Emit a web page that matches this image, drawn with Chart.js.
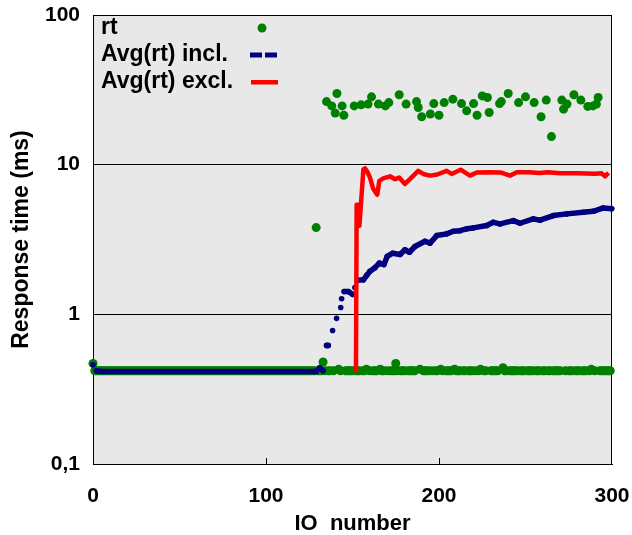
<!DOCTYPE html>
<html>
<head>
<meta charset="utf-8">
<script src="https://cdn.jsdelivr.net/npm/chart.js"></script>
<style>
  html, body { margin: 0; padding: 0; background: #fff; }
  #wrap { width: 632px; height: 535px; position: relative; }
</style>
</head>
<body>
<div id="wrap"><canvas id="chart"></canvas></div>
<script>
// response time of each IO (ms), IO number = index
const rt = [
  0.47, 0.42, 0.42, 0.42, 0.42, 0.42, 0.42, 0.42, 0.42, 0.42, 0.42, 0.42, 0.42, 0.42, 0.42, 0.42, 0.42, 0.42, 0.42, 0.42,
  0.42, 0.42, 0.42, 0.42, 0.42, 0.42, 0.42, 0.42, 0.42, 0.42, 0.42, 0.42, 0.42, 0.42, 0.42, 0.42, 0.42, 0.42, 0.42, 0.42,
  0.42, 0.42, 0.42, 0.42, 0.42, 0.42, 0.42, 0.42, 0.42, 0.42, 0.42, 0.42, 0.42, 0.42, 0.42, 0.42, 0.42, 0.42, 0.42, 0.42,
  0.42, 0.42, 0.42, 0.42, 0.42, 0.42, 0.42, 0.42, 0.42, 0.42, 0.42, 0.42, 0.42, 0.42, 0.42, 0.42, 0.42, 0.42, 0.42, 0.42,
  0.42, 0.42, 0.42, 0.42, 0.42, 0.42, 0.42, 0.42, 0.42, 0.42, 0.42, 0.42, 0.42, 0.42, 0.42, 0.42, 0.42, 0.42, 0.42, 0.42,
  0.42, 0.42, 0.42, 0.42, 0.42, 0.42, 0.42, 0.42, 0.42, 0.42, 0.42, 0.42, 0.42, 0.42, 0.42, 0.42, 0.42, 0.42, 0.42, 0.42,
  0.42, 0.42, 0.42, 0.42, 0.42, 0.42, 0.42, 0.42, 0.42, 3.8, 0.42, 0.42, 0.42, 0.48, 0.42, 26.4, 0.42, 0.42, 24.7, 0.42,
  22.1, 29.9, 0.43, 0.42, 24.7, 21.4, 0.42, 0.42, 0.42, 0.42, 0.42, 24.7, 0.42, 0.42, 0.42, 25.1, 0.42, 0.42, 0.43, 25.4,
  0.42, 28.4, 0.42, 0.42, 0.42, 25.4, 0.43, 0.42, 0.42, 24.7, 0.42, 26.0, 0.42, 0.42, 0.42, 0.47, 0.42, 29.3, 0.42, 0.42,
  0.42, 25.4, 0.42, 0.42, 0.42, 0.42, 0.42, 26.4, 24.1, 0.43, 20.9, 0.42, 0.42, 0.42, 0.42, 21.8, 0.42, 25.6, 0.42, 0.42,
  21.4, 0.43, 0.42, 26.0, 0.42, 0.42, 0.42, 0.42, 27.4, 0.43, 0.42, 0.42, 0.42, 25.6, 0.42, 0.42, 22.9, 0.42, 0.42, 0.42,
  25.6, 0.42, 21.4, 0.42, 0.43, 28.8, 0.42, 0.42, 28.1, 22.3, 0.42, 0.42, 0.42, 0.42, 0.42, 25.6, 26.4, 0.44, 0.42, 0.42,
  29.9, 0.42, 0.42, 0.42, 0.42, 0.42, 26.0, 0.42, 0.42, 0.42, 28.4, 0.42, 0.42, 0.42, 0.42, 26.0, 0.42, 0.42, 0.42, 20.9,
  0.42, 0.42, 27.0, 0.42, 0.42, 15.4, 0.42, 0.42, 0.42, 0.42, 0.42, 27.0, 23.5, 0.42, 25.4, 0.42, 0.42, 0.42, 29.3, 0.42,
  0.42, 0.42, 27.0, 0.42, 0.42, 0.42, 24.5, 0.42, 0.43, 24.7, 0.42, 25.4, 28.1, 0.42, 0.42, 0.42, 0.42, 0.42, 0.42, 0.42
];

// running average including all IOs
const inclIO = [0, 2, 5, 128, 129, 131, 133, 135, 136, 138.5, 140.8, 143.2, 143.7, 145.2, 147.6, 150.1, 151.4, 152.8,
  156.3, 158.2, 160.1, 163, 165.5, 168.2, 170.1, 173.2, 177.5, 180.3, 182.9, 186.1, 191.9, 194.8, 198.7, 204.4, 208.3,
  212.1, 216, 219.8, 227.6, 231.4, 235.3, 243, 246.8, 254.5, 258.4, 266.1, 273.8, 283.4, 289.2, 295, 299.8];
const inclAvg = [0.46, 0.42, 0.415, 0.415, 0.415, 0.44, 0.42, 0.62, 0.62, 0.78, 0.94, 1.11, 1.27, 1.42, 1.42, 1.36, 1.51, 1.69,
  1.70, 1.82, 1.94, 2.05, 2.2, 2.15, 2.44, 2.56, 2.51, 2.7, 2.6, 2.84, 3.08, 2.99, 3.36, 3.45, 3.59,
  3.62, 3.73, 3.78, 3.92, 4.12, 4.02, 4.23, 4.06, 4.34, 4.26, 4.57, 4.69, 4.81, 4.88, 5.14, 5.07];

// running average excluding the first IOs
const exclIO = [152, 152.4, 153.3, 154, 156.3, 157.2, 158.5, 160.1, 162, 164.3, 165.5, 167.8, 171.7, 174.6, 177, 180.3,
  183.2, 188, 190.9, 194.8, 199, 204.4, 207.3, 212.5, 217.9, 221.8, 229.5, 236, 241, 245, 252, 258, 263, 270, 280,
  290, 294, 296, 298];
const exclAvg = [0.41, 5.4, 5.4, 3.9, 9.3, 9.45, 9.0, 8.2, 6.9, 6.3, 7.8, 8.1, 8.36, 8.0, 8.2, 7.43,
  8.0, 9.1, 8.67, 8.45, 8.6, 9.1, 8.67, 9.26, 8.45, 8.87, 8.9, 8.85, 8.45, 8.9, 8.9, 8.8, 8.9, 8.75, 8.75,
  8.7, 8.75, 8.36, 8.8];

const seriesNames = ['rt', 'Avg(rt) incl.', 'Avg(rt) excl.'];
const xTicks = [0, 100, 200, 300];
const yTicks = [0.1, 1, 10, 100];
const yTickLabels = ['0,1', '1', '10', '100'];

const GREEN = '#008000';
const NAVY = '#000080';
const RED = '#ff0000';

Chart.defaults.font.family = '"Liberation Sans", Arial, sans-serif';
Chart.defaults.color = '#000';

const plotFrame = {
    id: 'plotFrame',
    beforeDraw(chart) {
        const a = chart.chartArea;
        const ctx = chart.ctx;
        ctx.save();
        ctx.fillStyle = '#e8e8e8';
        ctx.fillRect(a.left, a.top, a.right - a.left, a.bottom - a.top);
        ctx.restore();
    },
    beforeDatasetsDraw(chart) {
        const a = chart.chartArea;
        const ctx = chart.ctx;
        const xs = chart.scales.x;
        ctx.save();
        ctx.strokeStyle = '#000';
        ctx.lineWidth = 1;
        ctx.strokeRect(Math.round(a.left) + 0.5, Math.round(a.top) + 0.5,
            Math.round(a.right - a.left) - 1, Math.round(a.bottom - a.top));
        // inward tick marks on the x axis
        ctx.beginPath();
        xTicks.slice(1, -1).forEach(v => {
            const px = Math.round(xs.getPixelForValue(v)) + 0.5;
            ctx.moveTo(px, a.bottom);
            ctx.lineTo(px, a.bottom - 6);
        });
        ctx.stroke();
        ctx.restore();
    }
};

const plotLegend = {
    id: 'plotLegend',
    afterDraw(chart) {
        const ctx = chart.ctx;
        const a = chart.chartArea;
        const rows = [28, 55, 82];
        ctx.save();
        ctx.font = 'bold 23px "Liberation Sans", Arial, sans-serif';
        ctx.textBaseline = 'middle';
        chart.data.datasets.forEach((ds, i) => {
            const y = rows[i];
            ctx.fillStyle = '#000';
            ctx.fillText(ds.label, a.left + 8, y);
            if (i === 0) {
                ctx.fillStyle = ds.pointBackgroundColor;
                ctx.beginPath();
                ctx.arc(262, y, 4.5, 0, Math.PI * 2);
                ctx.fill();
            } else if (i === 1) {
                ctx.fillStyle = ds.borderColor;
                ctx.fillRect(250, y - 2.5, 12, 5);
                ctx.fillRect(265, y - 2.5, 12, 5);
            } else {
                ctx.fillStyle = ds.borderColor;
                ctx.fillRect(251, y - 2, 27, 4.5);
            }
        });
        ctx.restore();
    }
};

const ctx = document.getElementById('chart').getContext('2d');
new Chart(ctx, {
    type: 'line',
    data: {
        datasets: [
            {
                label: seriesNames[0],
                data: rt.map((v, i) => ({ x: i, y: v })),
                showLine: false,
                pointRadius: 4.5,
                pointBorderWidth: 0,
                pointBackgroundColor: GREEN,
                borderColor: GREEN,
                clip: false,
                order: 3
            },
            {
                label: seriesNames[1],
                data: inclIO.map((x, i) => ({ x: x, y: inclAvg[i] })),
                borderColor: NAVY,
                borderWidth: 5.5,
                borderCapStyle: 'round',
                borderJoinStyle: 'round',
                pointRadius: 2.8,
                pointBorderWidth: 0,
                pointBackgroundColor: NAVY,
                tension: 0,
                clip: false,
                order: 2,
                segment: {
                    // in the steep warm-up part the curve shows as separate dots
                    borderColor: c => (c.p0.parsed.x < 152 && Math.abs(c.p1.y - c.p0.y) > 4) ? 'rgba(0,0,0,0)' : NAVY
                }
            },
            {
                label: seriesNames[2],
                data: exclIO.map((x, i) => ({ x: x, y: exclAvg[i] })),
                borderColor: RED,
                borderWidth: 4.5,
                borderJoinStyle: 'round',
                pointRadius: 0,
                tension: 0,
                clip: false,
                order: 1
            }
        ]
    },
    options: {
        responsive: true,
        maintainAspectRatio: false,
        animation: false,
        events: [],
        layout: { padding: { left: 0, right: 20, top: 15, bottom: 0 } },
        plugins: {
            legend: { display: false },
            tooltip: { enabled: false }
        },
        scales: {
            x: {
                type: 'linear',
                min: 0,
                max: 300,
                afterBuildTicks: s => { s.ticks = xTicks.map(v => ({ value: v })); },
                afterFit: s => { s.height = 71; s.paddingLeft = 0; s.paddingRight = 0; },
                grid: { display: false, drawTicks: false },
                border: { display: true, color: '#000', width: 1 },
                ticks: {
                    padding: 20,
                    maxRotation: 0,
                    font: { size: 21, weight: 'bold' },
                    callback: v => String(v)
                },
                title: {
                    display: true,
                    text: 'IO  number',
                    font: { size: 22, weight: 'bold', lineHeight: 1 },
                    padding: { top: 0, bottom: 0 }
                }
            },
            y: {
                type: 'logarithmic',
                min: 0.1,
                max: 100,
                afterBuildTicks: s => { s.ticks = yTicks.map(v => ({ value: v })); },
                afterFit: s => { s.width = 93; s.paddingTop = 0; s.paddingBottom = 0; },
                grid: { color: '#000', lineWidth: 1, drawTicks: false },
                border: { display: true, color: '#000', width: 1 },
                ticks: {
                    padding: 13,
                    font: { size: 21, weight: 'bold' },
                    callback: v => yTickLabels[yTicks.indexOf(v)]
                },
                title: {
                    display: true,
                    text: 'Response time (ms)',
                    font: { size: 23, weight: 'bold', lineHeight: 1 },
                    padding: { top: 10, bottom: 0 }
                }
            }
        }
    },
    plugins: [plotFrame, plotLegend]
});
</script>
</body>
</html>
